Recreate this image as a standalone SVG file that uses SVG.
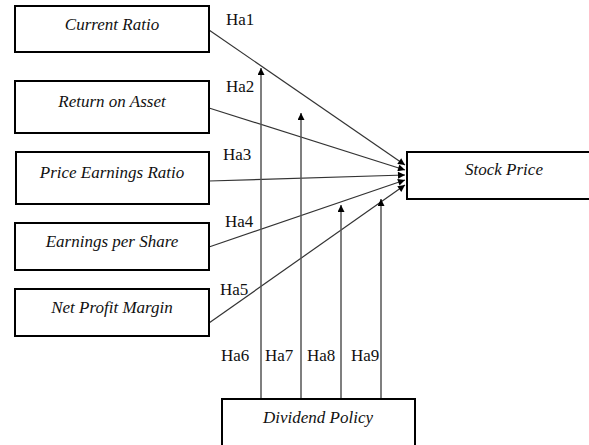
<svg xmlns="http://www.w3.org/2000/svg" width="589" height="445" viewBox="0 0 589 445" font-family="Liberation Serif, DejaVu Serif, serif">
<style>
.box{fill:#fff;stroke:#000;stroke-width:2}
.t{font-style:italic;font-size:17px;fill:#111;text-anchor:middle}
.h{font-size:17px;fill:#111}
.c{stroke:#333;stroke-width:1.2;fill:none}
.v{stroke:#555;stroke-width:1.5;fill:none}
</style>
<defs>
<marker id="ah" viewBox="0 0 10 10" refX="10" refY="5" markerWidth="8" markerHeight="7" markerUnits="userSpaceOnUse" orient="auto">
<path d="M0,0 L10,5 L0,10 z" fill="#000"/>
</marker>
</defs>
<rect width="589" height="445" fill="#fff"/>
<g id="connectors">
<line class="c" x1="209" y1="30" x2="405" y2="165" marker-end="url(#ah)"/>
<line class="c" x1="209" y1="108" x2="405" y2="170" marker-end="url(#ah)"/>
<line class="c" x1="209" y1="181" x2="405" y2="175" marker-end="url(#ah)"/>
<line class="c" x1="209" y1="247" x2="405" y2="180" marker-end="url(#ah)"/>
<line class="c" x1="209" y1="323" x2="405" y2="185" marker-end="url(#ah)"/>
<line class="v" x1="261" y1="399" x2="261" y2="68" marker-end="url(#ah)"/>
<line class="v" x1="301" y1="399" x2="301" y2="113" marker-end="url(#ah)"/>
<line class="v" x1="341" y1="399" x2="341" y2="205" marker-end="url(#ah)"/>
<line class="v" x1="381" y1="399" x2="381" y2="199" marker-end="url(#ah)"/>
<text class="h" x="226" y="25">Ha1</text>
<text class="h" x="226" y="92">Ha2</text>
<text class="h" x="223" y="160">Ha3</text>
<text class="h" x="225" y="227">Ha4</text>
<text class="h" x="220" y="295">Ha5</text>
<text class="h" x="221" y="361">Ha6</text>
<text class="h" x="265" y="361">Ha7</text>
<text class="h" x="307" y="361">Ha8</text>
<text class="h" x="351" y="361">Ha9</text>
</g>
<g id="current-ratio">
<rect class="box" x="15" y="6" width="194" height="46"/>
<text class="t" x="112" y="30">Current Ratio</text>
</g>
<g id="return-on-asset">
<rect class="box" x="15" y="81" width="194" height="52"/>
<text class="t" x="112" y="107">Return on Asset</text>
</g>
<g id="price-earnings-ratio">
<rect class="box" x="16" y="152" width="193" height="52"/>
<text class="t" x="112" y="178">Price Earnings Ratio</text>
</g>
<g id="earnings-per-share">
<rect class="box" x="15" y="223" width="194" height="47"/>
<text class="t" x="112" y="247">Earnings per Share</text>
</g>
<g id="net-profit-margin">
<rect class="box" x="15" y="289" width="194" height="47"/>
<text class="t" x="112" y="313">Net Profit Margin</text>
</g>
<g id="stock-price">
<rect class="box" x="407" y="152" width="190" height="47"/>
<text class="t" x="504" y="175">Stock Price</text>
</g>
<g id="dividend-policy">
<rect class="box" x="222" y="399" width="193" height="60"/>
<text class="t" x="318" y="423">Dividend Policy</text>
</g>
</svg>
